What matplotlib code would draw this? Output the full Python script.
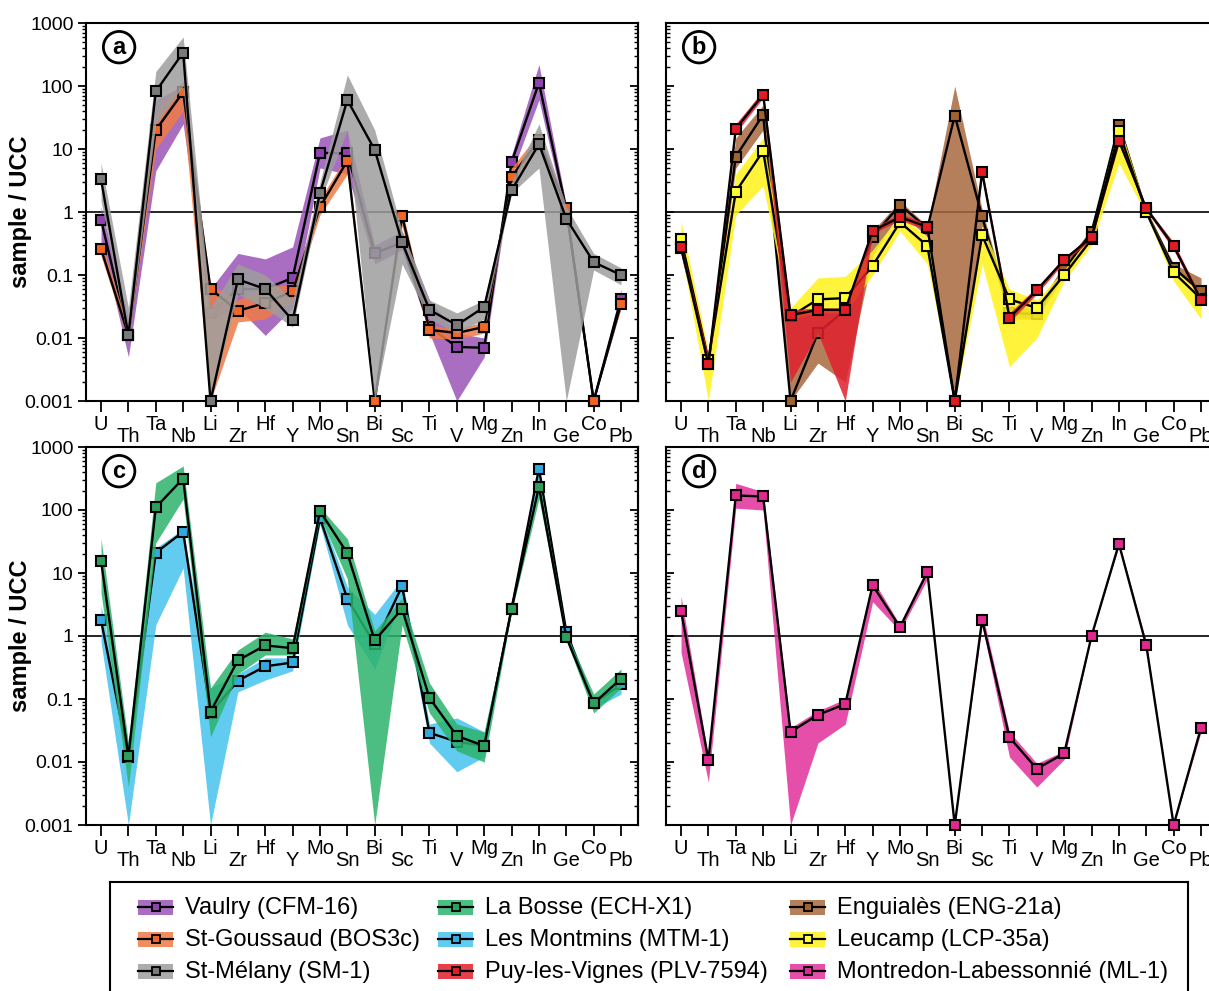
import numpy as np
import matplotlib
matplotlib.use('Agg')
import matplotlib.pyplot as plt
from matplotlib.patches import Rectangle

plt.rcParams['font.family'] = ['Liberation Sans', 'DejaVu Sans']

W, H = 1209, 991

elements = ['U', 'Th', 'Ta', 'Nb', 'Li', 'Zr', 'Hf', 'Y', 'Mo', 'Sn',
            'Bi', 'Sc', 'Ti', 'V', 'Mg', 'Zn', 'In', 'Ge', 'Co', 'Pb']

# --- panel a ---
vaulry = [0.75, 0.011, 20, 80, 0.025, 0.06, 0.06, 0.09, 8.7, 8.5, 0.22, 0.33, 0.015, 0.0072, 0.007, 6.2, 112, 1.1, 0.001, 0.042]
vaulry_lo = [0.35, 0.005, 4.5, 25, 0.02, 0.03, 0.011, 0.03, 5, 4, 0.15, 0.25, 0.012, 0.001, 0.005, 4, 60, 0.8, 0.001, 0.03]
vaulry_hi = [1.2, 0.02, 60, 100, 0.06, 0.22, 0.18, 0.28, 15, 20, 0.3, 0.5, 0.04, 0.012, 0.01, 8, 220, 1.3, 0.001, 0.06]

goussaud = [0.26, 0.011, 20, 80, 0.06, 0.027, 0.036, 0.055, 1.2, 6.5, 0.001, 0.87, 0.0135, 0.012, 0.015, 3.6, 14, 1.15, 0.001, 0.035]
goussaud_lo = [0.2, 0.009, 10, 40, 0.001, 0.018, 0.02, 0.04, 0.9, 4, 0.001, 0.6, 0.01, 0.0095, 0.012, 3, 10, 0.9, 0.001, 0.03]
goussaud_hi = [0.35, 0.014, 40, 120, 0.07, 0.04, 0.065, 0.07, 1.6, 8, 0.001, 1.1, 0.016, 0.014, 0.018, 5, 18, 1.3, 0.001, 0.04]

melany = [3.3, 0.011, 82, 340, 0.001, 0.085, 0.06, 0.019, 2.0, 60, 9.7, 0.33, 0.028, 0.016, 0.031, 2.2, 12, 0.78, 0.16, 0.1]
melany_lo = [1.5, 0.008, 25, 100, 0.001, 0.05, 0.03, 0.015, 1.5, 20, 0.001, 0.15, 0.02, 0.012, 0.02, 2, 5, 0.001, 0.12, 0.07]
melany_hi = [6, 0.03, 170, 600, 0.03, 0.15, 0.1, 0.04, 3, 150, 20, 0.5, 0.04, 0.025, 0.04, 3, 25, 1.2, 0.22, 0.13]

# --- panel b ---
enguiales = [0.27, 0.004, 7.6, 35, 0.001, 0.012, 0.028, 0.4, 1.3, 0.55, 34, 0.85, 0.025, 0.024, 0.12, 0.48, 24, 1.0, 0.13, 0.055]
enguiales_lo = [0.24, 0.003, 5, 20, 0.001, 0.004, 0.002, 0.2, 1.0, 0.4, 0.001, 0.6, 0.02, 0.02, 0.1, 0.4, 20, 0.9, 0.12, 0.05]
enguiales_hi = [0.3, 0.005, 15, 50, 0.025, 0.025, 0.03, 0.5, 1.5, 0.6, 100, 1.1, 0.03, 0.03, 0.15, 0.55, 28, 1.1, 0.15, 0.09]

leucamp = [0.37, 0.0045, 2.1, 9.3, 0.022, 0.041, 0.043, 0.14, 0.69, 0.29, 0.001, 0.43, 0.041, 0.03, 0.1, 0.37, 19, 1.0, 0.11, 0.042]
leucamp_lo = [0.25, 0.001, 0.9, 2.6, 0.02, 0.025, 0.025, 0.1, 0.5, 0.15, 0.001, 0.15, 0.0035, 0.01, 0.08, 0.3, 6, 0.9, 0.08, 0.02]
leucamp_hi = [0.72, 0.006, 4, 15, 0.03, 0.09, 0.095, 0.25, 0.9, 0.4, 0.001, 0.6, 0.06, 0.04, 0.12, 0.45, 25, 1.1, 0.12, 0.05]

plv = [0.28, 0.0038, 21, 73, 0.023, 0.028, 0.028, 0.5, 0.83, 0.58, 0.001, 4.3, 0.021, 0.057, 0.175, 0.40, 13.5, 1.14, 0.29, 0.04]
plv_lo = [0.25, 0.003, 18, 65, 0.002, 0.012, 0.001, 0.45, 0.75, 0.5, 0.001, 3.5, 0.018, 0.05, 0.16, 0.37, 12, 1.05, 0.25, 0.035]
plv_hi = [0.32, 0.005, 25, 85, 0.028, 0.03, 0.03, 0.55, 0.95, 0.65, 0.001, 5, 0.025, 0.065, 0.19, 0.43, 15, 1.2, 0.33, 0.045]

# --- panel c ---
montmins = [1.77, 0.012, 21, 45, 0.06, 0.195, 0.33, 0.38, 74, 3.9, 0.74, 6.2, 0.029, 0.021, 0.018, 2.7, 455, 1.17, 0.085, 0.17]
montmins_lo = [0.8, 0.001, 1.5, 12, 0.001, 0.13, 0.2, 0.28, 60, 1.5, 0.3, 4, 0.02, 0.007, 0.012, 2.5, 300, 1.0, 0.07, 0.12]
montmins_hi = [3, 0.02, 25, 50, 0.15, 0.25, 0.45, 0.45, 90, 6, 2.2, 8, 0.04, 0.05, 0.03, 3, 500, 1.3, 0.1, 0.2]

bosse = [15.6, 0.0123, 110, 316, 0.063, 0.41, 0.71, 0.64, 96, 20.5, 0.85, 2.7, 0.104, 0.026, 0.018, 2.7, 234, 0.96, 0.085, 0.21]
bosse_lo = [4.8, 0.004, 30, 150, 0.025, 0.25, 0.5, 0.5, 80, 8, 0.001, 1.5, 0.06, 0.015, 0.01, 2.4, 150, 0.85, 0.06, 0.15]
bosse_hi = [35, 0.02, 270, 500, 0.15, 0.6, 1.15, 0.9, 110, 35, 1.2, 4, 0.18, 0.04, 0.03, 3, 300, 1.1, 0.12, 0.3]

# --- panel d ---
montredon = [2.5, 0.0107, 170, 164, 0.03, 0.056, 0.083, 6.4, 1.38, 10.4, 0.001, 1.8, 0.0246, 0.0078, 0.0137, 1.0, 29, 0.71, 0.001, 0.035]
montredon_lo = [0.55, 0.0048, 107, 100, 0.001, 0.02, 0.04, 3.5, 1.2, 8, 0.001, 1.5, 0.012, 0.004, 0.011, 1.0, 27, 0.65, 0.001, 0.03]
montredon_hi = [4.3, 0.012, 265, 195, 0.035, 0.065, 0.1, 8, 1.5, 11, 0.001, 2.4, 0.03, 0.0095, 0.015, 1.0, 31, 0.8, 0.001, 0.04]

# colours: (band, marker face)
c_vaulry = ('#9a55b8', '#8e44ad')
c_goussaud = ('#ef7a45', '#f26522')
c_melany = ('#9e9e9e', '#7a7a7a')
c_bosse = ('#2db36b', '#2ca05a')
c_montmins = ('#45c3ee', '#34a8e0')
c_plv = ('#e0202e', '#e31b23')
c_enguiales = ('#a9693f', '#a0622e')
c_leucamp = ('#fff21a', '#ffff33')
c_montredon = ('#e2309a', '#e0288f')

x = np.arange(len(elements))


def draw_site(ax, vals, lo, hi, colors, z):
    ax.fill_between(x, lo, hi, color=colors[0], alpha=0.85, lw=0, zorder=z)
    ax.plot(x, vals, color='k', lw=1.7, marker='s', ms=7.5, mfc=colors[1],
            mec='k', mew=1.5, zorder=z + 1, clip_on=False)


def setup_axes(ax, letter, left_panel):
    ax.set_yscale('log')
    ax.set_ylim(0.001, 1000)
    ax.set_xlim(-0.55, 19.62)
    ax.axhline(1, color='k', lw=1.2, zorder=1)
    ax.set_yticks([0.001, 0.01, 0.1, 1, 10, 100, 1000])
    for s in ax.spines.values():
        s.set_linewidth(1.5)
    ax.set_xticks(x[::2], elements[::2])
    ax.set_xticks(x[1::2], elements[1::2], minor=True)
    ax.tick_params(axis='x', which='both', length=8, width=1.3,
                   direction='out', labelsize=14.5)
    ax.tick_params(axis='x', which='major', pad=2)
    ax.tick_params(axis='x', which='minor', pad=11)
    if left_panel:
        ax.set_yticklabels(['0.001', '0.01', '0.1', '1', '10', '100', '1000'])
        ax.tick_params(axis='y', which='major', length=6, width=1.3,
                       direction='out', labelsize=14, pad=3)
        ax.tick_params(axis='y', which='minor', length=3, width=1,
                       direction='out')
        ax.set_ylabel('sample / UCC', fontsize=17, fontweight='bold')
        ax.yaxis.set_label_coords(-0.098, 0.5)
        sec = ax.secondary_yaxis('right')
        sec.tick_params(axis='y', which='major', direction='in', length=6,
                        width=1.3, labelright=False)
        sec.tick_params(axis='y', which='minor', direction='in', length=3,
                        width=1)
        sec.spines['right'].set_linewidth(1.5)
    else:
        ax.tick_params(axis='y', which='major', length=6, width=1.3,
                       direction='in', labelleft=False)
        ax.tick_params(axis='y', which='minor', length=3, width=1,
                       direction='in')
    ax.text(0.06, 0.936, letter, transform=ax.transAxes, fontsize=17,
            fontweight='bold', ha='center', va='center', zorder=30,
            bbox=dict(boxstyle='circle,pad=0.18', fc='white', ec='black', lw=2))


fig = plt.figure(figsize=(W / 100, H / 100), dpi=100)

axw = 552 / W
axh = 378 / H
ax_a = fig.add_axes([86 / W, 1 - 401 / H, axw, axh])
ax_b = fig.add_axes([666 / W, 1 - 401 / H, axw, axh])
ax_c = fig.add_axes([86 / W, 1 - 825 / H, axw, axh])
ax_d = fig.add_axes([666 / W, 1 - 825 / H, axw, axh])

setup_axes(ax_a, 'a', True)
setup_axes(ax_b, 'b', False)
setup_axes(ax_c, 'c', True)
setup_axes(ax_d, 'd', False)

draw_site(ax_a, vaulry, vaulry_lo, vaulry_hi, c_vaulry, 2)
draw_site(ax_a, goussaud, goussaud_lo, goussaud_hi, c_goussaud, 4)
draw_site(ax_a, melany, melany_lo, melany_hi, c_melany, 6)

draw_site(ax_b, enguiales, enguiales_lo, enguiales_hi, c_enguiales, 2)
draw_site(ax_b, leucamp, leucamp_lo, leucamp_hi, c_leucamp, 4)
draw_site(ax_b, plv, plv_lo, plv_hi, c_plv, 6)

draw_site(ax_c, montmins, montmins_lo, montmins_hi, c_montmins, 2)
draw_site(ax_c, bosse, bosse_lo, bosse_hi, c_bosse, 4)

draw_site(ax_d, montredon, montredon_lo, montredon_hi, c_montredon, 2)

# legend box drawn by hand, in pixel-like coordinates
lax = fig.add_axes([110 / W, -12 / H, (1188 - 110) / W, (1003 - 882) / H])
lax.set_xlim(110, 1188)
lax.set_ylim(1003, 882)
lax.set_xticks([])
lax.set_yticks([])
for s in lax.spines.values():
    s.set_linewidth(1.5)

legend_items = [
    ('Vaulry (CFM-16)', c_vaulry), ('St-Goussaud (BOS3c)', c_goussaud),
    ('St-Mélany (SM-1)', c_melany), ('La Bosse (ECH-X1)', c_bosse),
    ('Les Montmins (MTM-1)', c_montmins), ('Puy-les-Vignes (PLV-7594)', c_plv),
    ('Enguialès (ENG-21a)', c_enguiales), ('Leucamp (LCP-35a)', c_leucamp),
    ('Montredon-Labessonnié (ML-1)', c_montredon),
]
col_x = [138, 438, 790]
row_y = [907, 939, 971]
for i, (label, cols) in enumerate(legend_items):
    cx = col_x[i // 3]
    ry = row_y[i % 3]
    lax.add_patch(Rectangle((cx, ry - 7.5), 35, 15, color=cols[0], alpha=0.85, lw=0))
    lax.plot([cx, cx + 35], [ry, ry], color='k', lw=1.6)
    lax.plot([cx + 17.5], [ry], marker='s', ms=6, mfc=cols[1], mec='k', mew=1.3)
    lax.text(cx + 47, ry + 1, label, fontsize=17, va='center')

fig.savefig('out.png', dpi=100, facecolor='white')
